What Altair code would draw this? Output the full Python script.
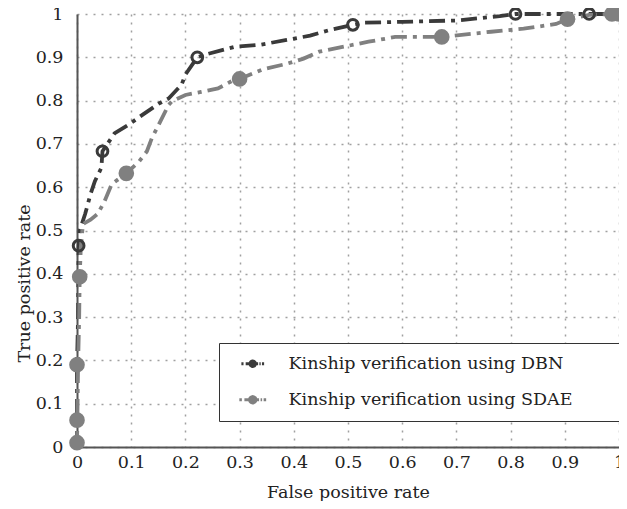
import altair as alt
import pandas as pd

PAD = "\u00a0" * 16 + "\u200b"
series_names = ["Kinship verification using DBN" + PAD, "Kinship verification using SDAE" + PAD]

dbn_x = [0, 0, 0, 0.002, 0.003, 0.005, 0.015, 0.025, 0.033, 0.045, 0.047, 0.069, 0.096, 0.124,
         0.151, 0.169, 0.193, 0.2, 0.222, 0.242, 0.29, 0.338, 0.387, 0.43, 0.466, 0.509, 0.53,
         0.6, 0.7, 0.78, 0.809, 0.945, 1.0]
dbn_y = [0, 0.06, 0.19, 0.3, 0.465, 0.5, 0.538, 0.584, 0.614, 0.645, 0.683, 0.724, 0.745, 0.77,
         0.793, 0.805, 0.837, 0.86, 0.9, 0.908, 0.924, 0.929, 0.94, 0.95, 0.963, 0.975, 0.98,
         0.982, 0.985, 0.995, 1.0, 1.0, 1.0]

sdae_x = [0, 0.002, 0.004, 0.005, 0.007, 0.011, 0.025, 0.038, 0.051, 0.064, 0.091, 0.115, 0.129,
          0.138, 0.151, 0.169, 0.175, 0.2, 0.229, 0.26, 0.29, 0.3, 0.345, 0.387, 0.418, 0.447,
          0.49, 0.538, 0.587, 0.673, 0.764, 0.824, 0.884, 0.905, 0.945, 0.987, 1.0]
sdae_y = [0, 0.19, 0.3, 0.393, 0.46, 0.515, 0.525, 0.538, 0.568, 0.607, 0.632, 0.66, 0.683,
          0.713, 0.745, 0.79, 0.798, 0.813, 0.82, 0.828, 0.848, 0.85, 0.873, 0.885, 0.897, 0.913,
          0.924, 0.936, 0.947, 0.947, 0.959, 0.966, 0.977, 0.988, 0.998, 1.0, 1.0]

dbn_mx = [0, 0, 0, 0.003, 0.047, 0.222, 0.509, 0.809, 0.945, 1.0]
dbn_my = [0.01, 0.062, 0.19, 0.465, 0.683, 0.9, 0.975, 1.0, 1.0, 1.0]
sdae_mx = [0, 0, 0, 0.005, 0.091, 0.3, 0.673, 0.905, 0.987, 1.0]
sdae_my = [0.01, 0.062, 0.19, 0.393, 0.632, 0.85, 0.947, 0.988, 1.0, 1.0]

tick_values = [0, 0.1, 0.2, 0.3, 0.4, 0.5, 0.6, 0.7, 0.8, 0.9, 1.0]

line_df = pd.DataFrame({
    "fpr": dbn_x + sdae_x,
    "tpr": dbn_y + sdae_y,
    "series": [series_names[0]] * len(dbn_x) + [series_names[1]] * len(sdae_x),
    "idx": list(range(len(dbn_x))) + list(range(len(sdae_x))),
})
mark_df = pd.DataFrame({
    "fpr": dbn_mx + sdae_mx,
    "tpr": dbn_my + sdae_my,
    "series": [series_names[0]] * len(dbn_mx) + [series_names[1]] * len(sdae_mx),
})

FONT = "DejaVu Serif"
FS = 17.5
DARK = "#3a3a3a"
GRAY = "#808080"
TEXT = "#222222"

stroke_scale = alt.Scale(domain=series_names, range=[DARK, GRAY])
fill_scale = alt.Scale(domain=series_names, range=["transparent", GRAY])

legend_path = ("M-2.12,0H-1.72M-1.32,0H1.0M1.24,0H1.48M1.72,0H2.12"
               "M0.5,0A0.5,0.5 0 1 1 -0.5,0A0.5,0.5 0 1 1 0.5,0Z")

leg = alt.Legend(
    title=None, orient="none", legendX=142, legendY=329,
    symbolType=legend_path, symbolSize=625, symbolStrokeWidth=3, symbolDash=[1, 0],
    symbolOffset=13, labelOffset=27, padding=12, rowPadding=17,
    labelFont=FONT, labelFontSize=FS, labelColor=TEXT, labelLimit=0,
    strokeColor="#333", fillColor="white",
)

x_enc = alt.X("fpr:Q", scale=alt.Scale(domain=[0, 1], nice=False), axis=alt.Axis(
    values=tick_values, format=".1~f", title="False positive rate",
    labelFlush=False, labelOverlap=False, ticks=False, tickSize=0, labelPadding=6,
    titleY=50, titleBaseline="alphabetic",
))
y_enc = alt.Y("tpr:Q", scale=alt.Scale(domain=[0, 1], nice=False), axis=alt.Axis(
    values=tick_values, format=".1~f", title="True positive rate",
    labelFlush=False, labelOverlap=False, ticks=False, tickSize=0, labelPadding=14,
    titleX=-48, titleY=269, titleAngle=270, titleAlign="center", titleBaseline="alphabetic",
))

lines = alt.Chart(line_df).mark_line(strokeWidth=3.8, strokeDash=[16, 6, 4, 6]).encode(
    x=x_enc, y=y_enc,
    stroke=alt.Stroke("series:N", scale=stroke_scale, legend=leg),
    order="idx:Q",
)

points = alt.Chart(mark_df).mark_point(shape="circle", strokeWidth=3, opacity=1).encode(
    x="fpr:Q", y="tpr:Q",
    stroke=alt.Stroke("series:N", scale=stroke_scale, legend=leg),
    fill=alt.Fill("series:N", scale=fill_scale, legend=leg),
    size=alt.Size("series:N", scale=alt.Scale(domain=series_names, range=[115, 160]), legend=None),
)

chart = alt.layer(lines, points).properties(
    width=542, height=433,
    autosize=alt.AutoSizeParams(type="none"),
    padding={"left": 69, "top": 6, "right": 0, "bottom": 54},
    background="white",
).configure_view(stroke=None).configure_axis(
    labelFont=FONT, labelFontSize=FS, labelColor=TEXT,
    titleFont=FONT, titleFontSize=FS, titleColor=TEXT, titleFontWeight="normal",
    domainColor="#555", domainWidth=2,
    gridColor="#a0a0a0", gridDash=[2, 6], gridWidth=1.5,
)

chart.save("out.html", embed_options={"renderer": "svg", "actions": False})
